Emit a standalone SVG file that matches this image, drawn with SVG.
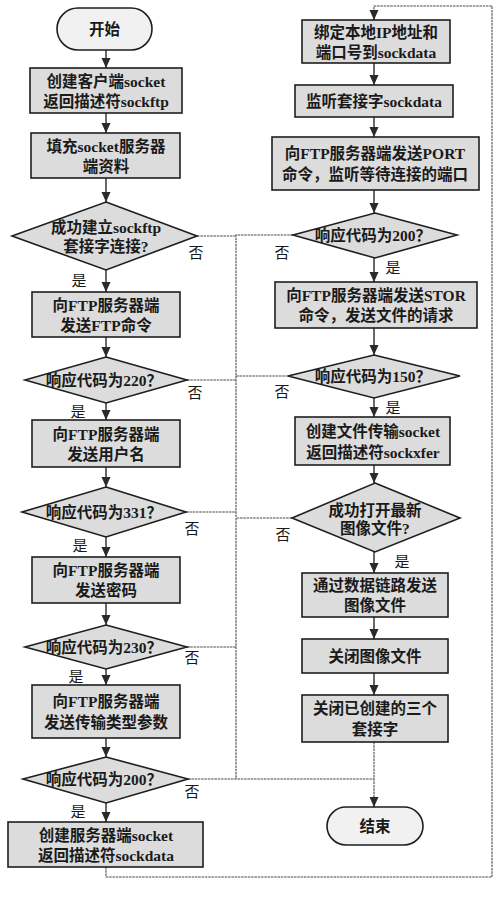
<svg xmlns="http://www.w3.org/2000/svg" width="500" height="911" viewBox="0 0 500 911">
<defs>
<marker id="ah" markerUnits="userSpaceOnUse" markerWidth="10" markerHeight="10" refX="10" refY="4.5" orient="auto">
<path d="M0,0 L10,4.5 L0,9 z" fill="#2a2a2a"/>
</marker>
<style>
.box{fill:#dcdcdc;stroke:#1e1e1e;stroke-width:1.6}
.term{fill:#f1f1f1;stroke:#1e1e1e;stroke-width:1.6}
.t{font-family:"Liberation Serif","Noto Sans CJK SC",serif;font-size:15.5px;font-weight:bold;fill:#1a1a1a;text-anchor:middle;dominant-baseline:central}
.lb{font-family:"Liberation Serif","Noto Sans CJK SC",serif;font-size:15px;fill:#1a1a1a;text-anchor:middle;dominant-baseline:central}
.c{fill:none;stroke:#2a2a2a;stroke-width:1.4}
.g{fill:none;stroke:#4a4a4a;stroke-width:1.1;stroke-dasharray:2.5 0.8}
</style>
</defs>
<rect width="500" height="911" fill="#ffffff"/>
<g id="connectors">
<line class="c" x1="106" y1="50" x2="106" y2="68" marker-end="url(#ah)"/>
<line class="c" x1="106" y1="113" x2="106" y2="133" marker-end="url(#ah)"/>
<line class="c" x1="106" y1="178" x2="106" y2="202" marker-end="url(#ah)"/>
<line class="c" x1="106" y1="270" x2="106" y2="292" marker-end="url(#ah)"/>
<line class="c" x1="106" y1="337" x2="106" y2="357" marker-end="url(#ah)"/>
<line class="c" x1="106" y1="403" x2="106" y2="420" marker-end="url(#ah)"/>
<line class="c" x1="106" y1="467" x2="106" y2="487" marker-end="url(#ah)"/>
<line class="c" x1="106" y1="537" x2="106" y2="557" marker-end="url(#ah)"/>
<line class="c" x1="106" y1="603" x2="106" y2="625" marker-end="url(#ah)"/>
<line class="c" x1="106" y1="669" x2="106" y2="685" marker-end="url(#ah)"/>
<line class="c" x1="106" y1="738" x2="106" y2="757" marker-end="url(#ah)"/>
<line class="c" x1="106" y1="803" x2="106" y2="822" marker-end="url(#ah)"/>
<polyline class="g" points="106,867 106,877 492,877 492,6 374,6 374,14"/>
<line class="c" x1="374" y1="12" x2="374" y2="20" marker-end="url(#ah)"/>
<line class="c" x1="374" y1="63" x2="374" y2="85" marker-end="url(#ah)"/>
<line class="c" x1="374" y1="117" x2="374" y2="137" marker-end="url(#ah)"/>
<line class="c" x1="374" y1="190" x2="374" y2="213" marker-end="url(#ah)"/>
<line class="c" x1="374" y1="258" x2="374" y2="282" marker-end="url(#ah)"/>
<line class="c" x1="374" y1="328" x2="374" y2="355" marker-end="url(#ah)"/>
<line class="c" x1="374" y1="398" x2="374" y2="417" marker-end="url(#ah)"/>
<line class="c" x1="374" y1="465" x2="374" y2="483" marker-end="url(#ah)"/>
<line class="c" x1="374" y1="552" x2="374" y2="573" marker-end="url(#ah)"/>
<line class="c" x1="374" y1="617" x2="374" y2="639" marker-end="url(#ah)"/>
<line class="c" x1="374" y1="673" x2="374" y2="695" marker-end="url(#ah)"/>
<line class="g" x1="374" y1="742" x2="374" y2="800"/>
<line class="c" x1="374" y1="797" x2="374" y2="807" marker-end="url(#ah)"/>
<polyline class="g" points="197,236 236,236"/>
<polyline class="g" points="187,380 236,380"/>
<polyline class="g" points="186,512 236,512"/>
<polyline class="g" points="187,647 236,647"/>
<polyline class="g" points="188,779 236,779 374,779"/>
<polyline class="g" points="293,235 236,235 236,779"/>
<polyline class="g" points="288,376 236,376"/>
<polyline class="g" points="292,518 236,518"/>
</g>
<g id="start"><rect class="term" x="57" y="8" width="95" height="42" rx="21"/><text class="t" x="104.5" y="29">开始</text></g>
<g id="n1"><rect class="box" x="30" y="68" width="152" height="45"/><text class="t" x="106" y="81">创建客户端socket</text><text class="t" x="106" y="101">返回描述符sockftp</text></g>
<g id="n2"><rect class="box" x="31" y="133" width="149" height="45"/><text class="t" x="106" y="146">填充socket服务器</text><text class="t" x="106" y="166">端资料</text></g>
<g id="d1"><polygon class="box" points="106,202 197,236 106,270 12,236"/><text class="t" x="106" y="227">成功建立sockftp</text><text class="t" x="106" y="246">套接字连接?</text></g>
<g id="n3"><rect class="box" x="32" y="292" width="148" height="45"/><text class="t" x="106" y="305">向FTP服务器端</text><text class="t" x="106" y="325">发送FTP命令</text></g>
<g id="d2"><polygon class="box" points="106,357 187,380 106,403 25,380"/><text class="t" x="104" y="380">响应代码为220？</text></g>
<g id="n4"><rect class="box" x="32" y="420" width="148" height="47"/><text class="t" x="106" y="434">向FTP服务器端</text><text class="t" x="106" y="454">发送用户名</text></g>
<g id="d3"><polygon class="box" points="106,487 186,512 106,537 22,512"/><text class="t" x="104" y="512">响应代码为331？</text></g>
<g id="n5"><rect class="box" x="32" y="557" width="148" height="46"/><text class="t" x="106" y="570">向FTP服务器端</text><text class="t" x="106" y="590">发送密码</text></g>
<g id="d4"><polygon class="box" points="106,625 187,647 106,669 25,647"/><text class="t" x="104" y="647">响应代码为230？</text></g>
<g id="n6"><rect class="box" x="32" y="685" width="148" height="53"/><text class="t" x="106" y="701">向FTP服务器端</text><text class="t" x="106" y="722">发送传输类型参数</text></g>
<g id="d5"><polygon class="box" points="106,757 188,779 106,803 23,779"/><text class="t" x="104" y="779">响应代码为200？</text></g>
<g id="n7"><rect class="box" x="8" y="822" width="195" height="45"/><text class="t" x="106" y="835">创建服务器端socket</text><text class="t" x="106" y="855">返回描述符sockdata</text></g>
<g id="r1"><rect class="box" x="302" y="20" width="148" height="43"/><text class="t" x="376" y="32">绑定本地IP地址和</text><text class="t" x="376" y="52">端口号到sockdata</text></g>
<g id="r2"><rect class="box" x="295" y="85" width="158" height="32"/><text class="t" x="374" y="101">监听套接字sockdata</text></g>
<g id="r3"><rect class="box" x="272" y="137" width="207" height="53"/><text class="t" x="375" y="153">向FTP服务器端发送PORT</text><text class="t" x="375" y="174">命令，监听等待连接的端口</text></g>
<g id="rd1"><polygon class="box" points="375,213 457,235 375,258 293,235"/><text class="t" x="373" y="235">响应代码为200？</text></g>
<g id="r4"><rect class="box" x="275" y="282" width="202" height="46"/><text class="t" x="376" y="295">向FTP服务器端发送STOR</text><text class="t" x="376" y="315">命令，发送文件的请求</text></g>
<g id="rd2"><polygon class="box" points="374,355 460,376 374,398 288,376"/><text class="t" x="373" y="376">响应代码为150？</text></g>
<g id="r5"><rect class="box" x="295" y="417" width="155" height="48"/><text class="t" x="373" y="431">创建文件传输socket</text><text class="t" x="373" y="452">返回描述符sockxfer</text></g>
<g id="rd3"><polygon class="box" points="375,483 460,518 375,552 292,518"/><text class="t" x="375" y="510">成功打开最新</text><text class="t" x="375" y="528">图像文件?</text></g>
<g id="r6"><rect class="box" x="302" y="573" width="146" height="44"/><text class="t" x="375" y="585">通过数据链路发送</text><text class="t" x="375" y="605">图像文件</text></g>
<g id="r7"><rect class="box" x="302" y="639" width="146" height="34"/><text class="t" x="375" y="656">关闭图像文件</text></g>
<g id="r8"><rect class="box" x="302" y="695" width="146" height="47"/><text class="t" x="375" y="708">关闭已创建的三个</text><text class="t" x="375" y="729">套接字</text></g>
<g id="end"><rect class="term" x="327" y="807" width="96" height="38" rx="19"/><text class="t" x="375" y="826">结束</text></g>
<g id="labels">
<text class="lb" x="196" y="253">否</text><text class="lb" x="79" y="281">是</text>
<text class="lb" x="195" y="393">否</text><text class="lb" x="78" y="412">是</text>
<text class="lb" x="192" y="529">否</text><text class="lb" x="80" y="546">是</text>
<text class="lb" x="192" y="658">否</text><text class="lb" x="76" y="677">是</text>
<text class="lb" x="192" y="792">否</text><text class="lb" x="78" y="812">是</text>
<text class="lb" x="282" y="253">否</text><text class="lb" x="393" y="268">是</text>
<text class="lb" x="282" y="392">否</text><text class="lb" x="393" y="408">是</text>
<text class="lb" x="283" y="535">否</text><text class="lb" x="402" y="562">是</text>
</g>
</svg>
